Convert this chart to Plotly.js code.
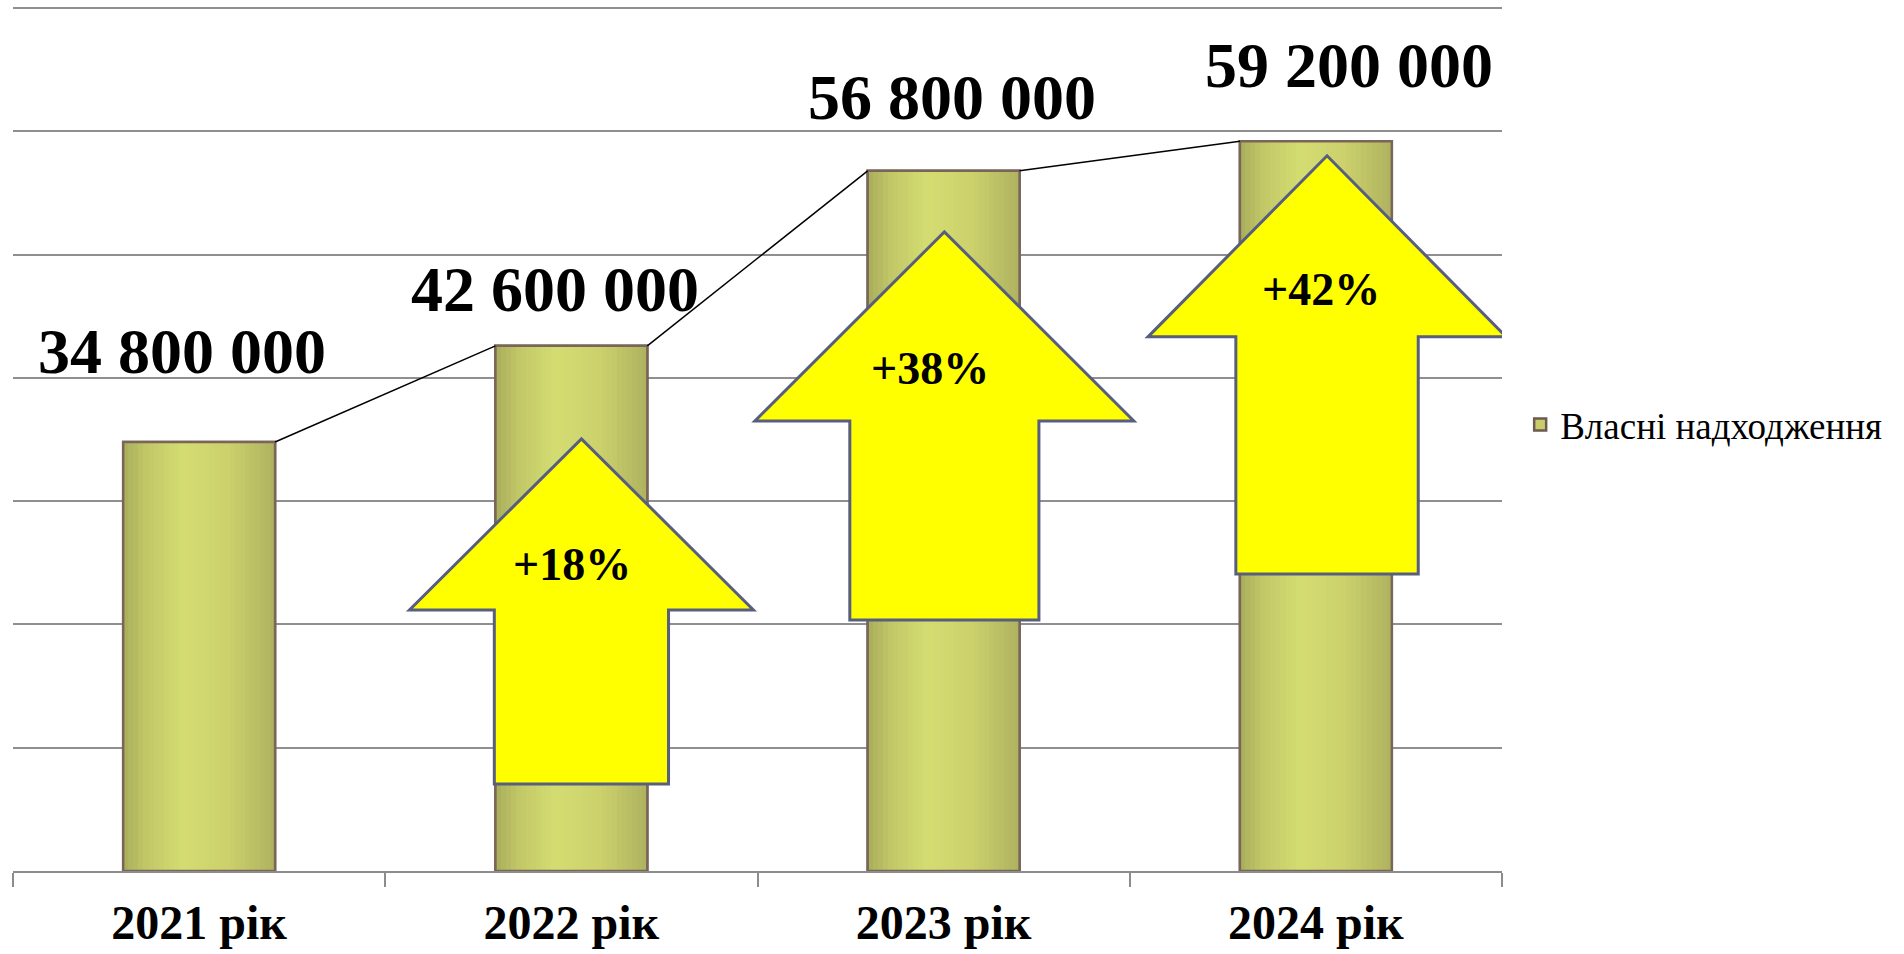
<!DOCTYPE html>
<html>
<head>
<meta charset="utf-8">
<script src="https://cdn.plot.ly/plotly-3.0.1.min.js"></script>
<style>html,body{margin:0;padding:0;background:#fff;}#chart{width:1904px;height:954px;}</style>
</head>
<body>
<div id="chart"></div>
<script>
// ---- data ----
const categories = ['2021 рік', '2022 рік', '2023 рік', '2024 рік'];
const values = [34800000, 42600000, 56800000, 59200000];
const valueLabels = ['34 800 000', '42 600 000', '56 800 000', '59 200 000'];
const growthCategories = ['2022 рік', '2023 рік', '2024 рік'];
const growthLabels = ['+18%', '+38%', '+42%'];
const seriesName = 'Власні надходження';

// ---- styling / placement (not data) ----
const FONT = 'Liberation Serif, Times New Roman, serif';
const BW = 0.408;                       // bar width in category units
const labelShift = [[-17, 91], [-16, 56], [8, 73], [33, 76]];   // px offsets of value labels from bar top centre
// arrow geometry in axis units: [dx, tipY, headBaseY, bottomY, halfHead, halfShaft]
const arrowGeom = [
  [0.027, 35.05e6, 21.18e6, 7.06e6, 0.462, 0.234],
  [0.002, 51.85e6, 36.51e6, 20.37e6, 0.509, 0.254],
  [0.030, 58.02e6, 43.33e6, 24.1e6, 0.481, 0.245]
];
const arrowLabelPos = [[0.002, 24.83e6], [-0.037, 40.73e6], [0.014, 47.14e6]];

function lerp(a, b, t) { return a + (b - a) * t; }
const stops = [[0, [169, 173, 92]], [0.15, [193, 199, 103]], [0.4, [212, 221, 113]], [0.7, [203, 208, 108]], [1, [174, 178, 95]]];
function gradColor(t) {
  for (let k = 0; k < stops.length - 1; k++) {
    const [t0, c0] = stops[k], [t1, c1] = stops[k + 1];
    if (t >= t0 && t <= t1) {
      const u = (t - t0) / (t1 - t0);
      return 'rgb(' + c0.map((c, j) => Math.round(lerp(c, c1[j], u))).join(',') + ')';
    }
  }
  return 'rgb(174,178,95)';
}

const traces = [];
// base bar (legend entry)
traces.push({
  type: 'bar', x: categories, y: values, name: seriesName,
  width: BW, marker: { color: '#c8cd6a', line: { color: '#6e5a4e', width: 2.5 } },
  hoverinfo: 'x+y', showlegend: true
});
// gradient stripes
const N = 30;
for (let s = 0; s < N; s++) {
  const w = BW / N;
  traces.push({
    type: 'bar', x: categories, y: values, name: seriesName,
    width: categories.map(() => w * 1.05),
    offset: categories.map(() => -BW / 2 + s * w),
    marker: { color: gradColor((s + 0.5) / N), line: { width: 0 } },
    showlegend: false, hoverinfo: 'skip'
  });
}
// outline on top
traces.push({
  type: 'bar', x: categories, y: values, name: seriesName, width: BW,
  marker: { color: 'rgba(0,0,0,0)', line: { color: '#7a6658', width: 2.5 } },
  showlegend: false, hoverinfo: 'skip'
});

const shapes = [];
// series lines connecting bar tops
for (let i = 0; i < values.length - 1; i++) {
  shapes.push({
    type: 'line', xref: 'x2', yref: 'y',
    x0: i + BW / 2, y0: values[i], x1: i + 1 - BW / 2, y1: values[i + 1],
    line: { color: '#000', width: 1.5 }
  });
}
// growth arrows
growthCategories.forEach((c, k) => {
  const ci = categories.indexOf(c);
  const [dx, tip, base, bot, hh, hs] = arrowGeom[k];
  const cx = ci + dx;
  const path = `M${cx - hs},${bot} L${cx - hs},${base} L${cx - hh},${base} L${cx},${tip} L${cx + hh},${base} L${cx + hs},${base} L${cx + hs},${bot} Z`;
  shapes.push({
    type: 'path', xref: 'x2', yref: 'y', path: path,
    fillcolor: '#ffff00', line: { color: '#575e7e', width: 3 }, layer: 'above'
  });
});

const annotations = [];
values.forEach((v, i) => {
  annotations.push({
    xref: 'x2', yref: 'y', x: i, y: v, text: '<b>' + valueLabels[i] + '</b>',
    showarrow: false, xshift: labelShift[i][0], yshift: labelShift[i][1],
    font: { family: FONT, size: 64, color: '#000' }
  });
});
growthCategories.forEach((c, k) => {
  const ci = categories.indexOf(c);
  annotations.push({
    xref: 'x2', yref: 'y', x: ci + arrowLabelPos[k][0], y: arrowLabelPos[k][1],
    text: '<b>' + growthLabels[k] + '</b>', showarrow: false,
    font: { family: FONT, size: 46, color: '#000' }
  });
});

const layout = {
  width: 1904, height: 954,
  margin: { l: 13, r: 402, t: 5, b: 83, pad: 0 },
  paper_bgcolor: '#fff', plot_bgcolor: '#fff',
  barmode: 'overlay', bargap: 0,
  showlegend: true,
  legend: {
    x: 1.0122, y: 0.515, xanchor: 'left', yanchor: 'middle',
    font: { family: FONT, size: 37, color: '#000' },
    itemwidth: 30, bgcolor: 'rgba(0,0,0,0)'
  },
  xaxis: {
    type: 'category', range: [-0.5, 3.5],
    showline: true, linecolor: '#8c8c8c', linewidth: 2,
    ticks: 'outside', tickson: 'boundaries', ticklen: 14, tickcolor: '#8c8c8c', tickwidth: 2,
    showgrid: false, zeroline: false,
    tickfont: { family: FONT, size: 48, color: '#000' },
    tickvals: categories, ticktext: categories.map(c => '<b>' + c + '</b>'),
    ticklabelstandoff: 8
  },
  xaxis2: {
    overlaying: 'x', range: [-0.5, 3.5], visible: false, fixedrange: true
  },
  yaxis: {
    range: [0, 70250000], dtick: 10000000, tick0: 0,
    showticklabels: false, ticks: '', showline: false,
    showgrid: true, gridcolor: '#8f8f8f', gridwidth: 2, zeroline: false
  },
  shapes: shapes,
  annotations: annotations
};

Plotly.newPlot('chart', traces, layout, { displayModeBar: false, staticPlot: true });
</script>
</body>
</html>
